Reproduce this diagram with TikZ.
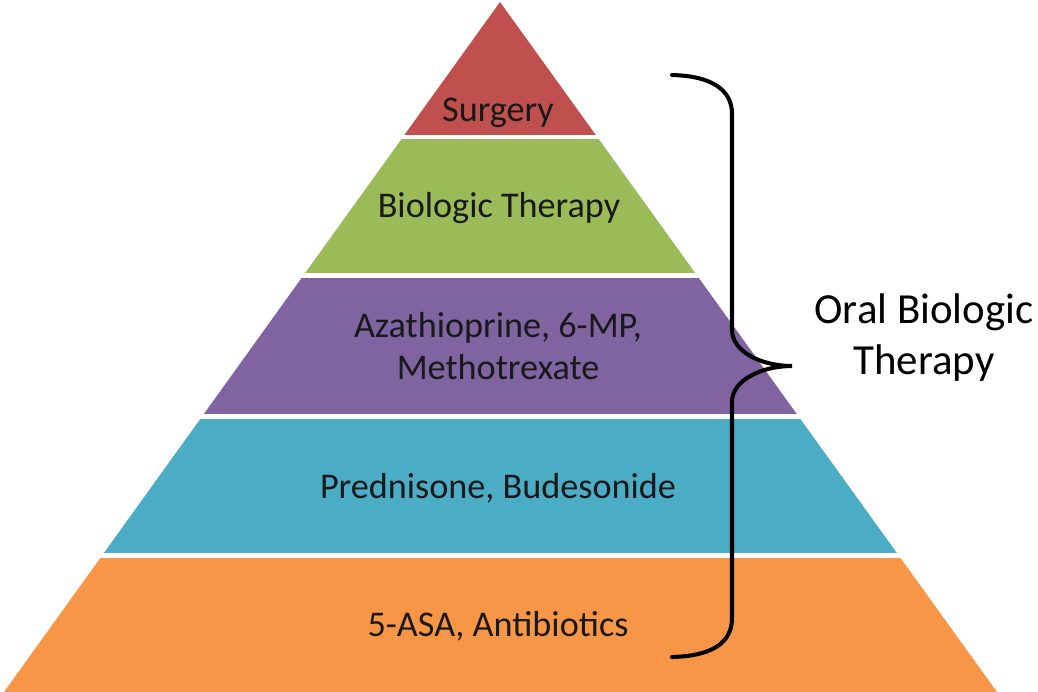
\documentclass[tikz,border=0pt]{standalone}
\usepackage{fontspec}
\setmainfont{Carlito}
\definecolor{surgeryred}{RGB}{192,80,77}
\definecolor{biogreen}{RGB}{155,187,89}
\definecolor{azapurple}{RGB}{128,100,162}
\definecolor{predcyan}{RGB}{75,172,198}
\definecolor{asaorange}{RGB}{247,150,70}
\tikzset{
  layer/.style={align=center,font=\fontsize{20.6pt}{24pt}\selectfont,text=black!90},
  sidelabel/.style={align=center,font=\fontsize{24.4pt}{29pt}\selectfont},
  brace/.style={line width=2.3pt,line cap=round}
}

\begin{document}
\begin{tikzpicture}[x=0.02cm,y=-0.02cm]
    \useasboundingbox (0,0) rectangle (1038,692);
    % pyramid, cut into layers
    \begin{scope}
        \clip (500,2) -- (4,692) -- (997,692) -- cycle;
        \fill[surgeryred] (0,0) rectangle (1038,135);
        \fill[biogreen] (0,139) rectangle (1038,273);
        \fill[azapurple] (0,278) rectangle (1038,414);
        \fill[predcyan] (0,419) rectangle (1038,553);
        \fill[asaorange] (0,558) rectangle (1038,692);
    \end{scope}
    \node[layer] (surgery) at (498,113) {Surgery};
    \node[layer] (biologic) at (499,208) {Biologic Therapy};
    \node[layer] (aza) at (498,346) {Azathioprine, 6-MP,\\Methotrexate};
    \node[layer] (pred) at (498,488) {Prednisone, Budesonide};
    \node[layer] (asa) at (498,626) {5-ASA, Antibiotics};
    % curly brace and its label
    \coordinate (bracetop) at (672,75);
    \coordinate (bracetip) at (792,366);
    \coordinate (bracebot) at (672,657);
    \draw[brace] (bracetop) .. controls (712,76) and (732,90) .. (732,114) -- (732,330)
        .. controls (732,352) and (762,366) .. (bracetip)
        .. controls (762,366) and (732,380) .. (732,402) -- (732,618)
        .. controls (732,643) and (712,656) .. (bracebot);
    \node[sidelabel] (oral) at (924,338) {Oral Biologic\\Therapy};
\end{tikzpicture}
\end{document}
